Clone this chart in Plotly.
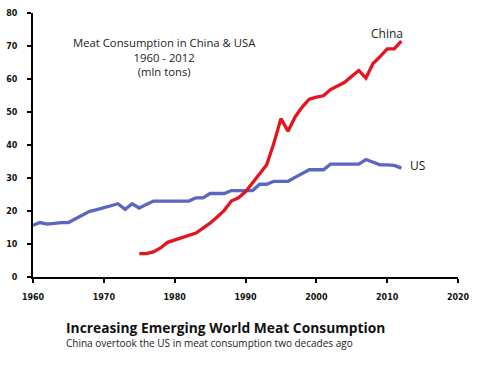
import plotly.graph_objects as go

us_years = list(range(1960, 2013))
us_values = [15.7, 16.5, 16.0, 16.3, 16.5, 16.5, 17.6, 18.9, 19.9, 20.4,
             20.9, 21.6, 22.2, 20.5, 22.2, 20.9, 22.0, 23.0, 23.0, 23.0,
             23.0, 23.0, 23.0, 24.0, 24.0, 25.3, 25.3, 25.3, 26.2, 26.2,
             26.2, 26.2, 28.1, 28.1, 29.0, 29.0, 29.0, 30.2, 31.4, 32.5,
             32.5, 32.5, 34.2, 34.2, 34.2, 34.2, 34.2, 35.6, 34.8, 34.0,
             34.0, 33.8, 33.0]

china_years = list(range(1975, 2013))
china_values = [7.1, 7.1, 7.6, 8.8, 10.5, 11.2, 11.9, 12.6, 13.3, 14.8,
                16.3, 18.2, 20.2, 23.0, 24.0, 25.8, 28.5, 31.2, 34.0, 40.5,
                48.0, 44.2, 48.5, 51.5, 53.9, 54.5, 54.9, 56.8, 58.0, 59.0,
                60.8, 62.6, 60.3, 64.7, 66.8, 69.1, 69.1, 71.5]

x_ticks = [1960, 1970, 1980, 1990, 2000, 2010, 2020]
y_ticks = [0, 10, 20, 30, 40, 50, 60, 70, 80]

fig = go.Figure()
fig.add_trace(go.Scatter(x=us_years, y=us_values, mode="lines",
                         line=dict(color="#5a66c0", width=3.3), name="US"))
fig.add_trace(go.Scatter(x=china_years, y=china_values, mode="lines",
                         line=dict(color="#e3161f", width=3.3), name="China"))

tickfont = dict(family="DejaVu Sans", size=8, color="#111", weight="bold")
fig.update_layout(
    width=497, height=366,
    margin=dict(l=33, r=39, t=13, b=89, autoexpand=False),
    plot_bgcolor="white", paper_bgcolor="white",
    showlegend=False,
    xaxis=dict(range=[1960, 2020], tickvals=x_ticks, showgrid=False, zeroline=False,
               showline=True, linecolor="black", linewidth=2, ticks="outside",
               ticklen=4, tickwidth=2, tickcolor="black", tickfont=tickfont,
               ticklabelstandoff=7),
    yaxis=dict(range=[0, 80], tickvals=y_ticks, showgrid=False, zeroline=False,
               showline=True, linecolor="black", linewidth=2, ticks="outside",
               ticklen=4, tickwidth=2, tickcolor="black", tickfont=tickfont,
               ticklabelstandoff=8),
)

fig.add_annotation(x=1978.6, y=66.7, xref="x", yref="y",
                   text="Meat Consumption in China &amp; USA<br>1960 - 2012<br>(mln tons)",
                   showarrow=False, align="center",
                   font=dict(family="Open Sans", size=11.3, color="#222"),
                   xanchor="center", yanchor="middle")

fig.add_annotation(x=2010, y=73.9, xref="x", yref="y", text="China", showarrow=False,
                   font=dict(family="Open Sans", size=12, color="#222"),
                   xanchor="center", yanchor="middle")
fig.add_annotation(x=2012.9, y=33.9, xref="x", yref="y", text="US", showarrow=False,
                   font=dict(family="Open Sans", size=12, color="#222"),
                   xanchor="left", yanchor="middle")

fig.add_annotation(x=0.073, y=-0.190, xref="paper", yref="paper",
                   text="<b>Increasing Emerging World Meat Consumption</b>", showarrow=False,
                   font=dict(family="Open Sans", size=13.8, color="#111"),
                   xanchor="left", yanchor="middle")
fig.add_annotation(x=0.073, y=-0.250, xref="paper", yref="paper",
                   text="China overtook the US in meat consumption two decades ago",
                   showarrow=False, font=dict(family="Open Sans", size=10, color="#222"),
                   xanchor="left", yanchor="middle")

fig.write_html("out.html", config={"displayModeBar": False},
               post_script="document.body.style.margin='0';")
